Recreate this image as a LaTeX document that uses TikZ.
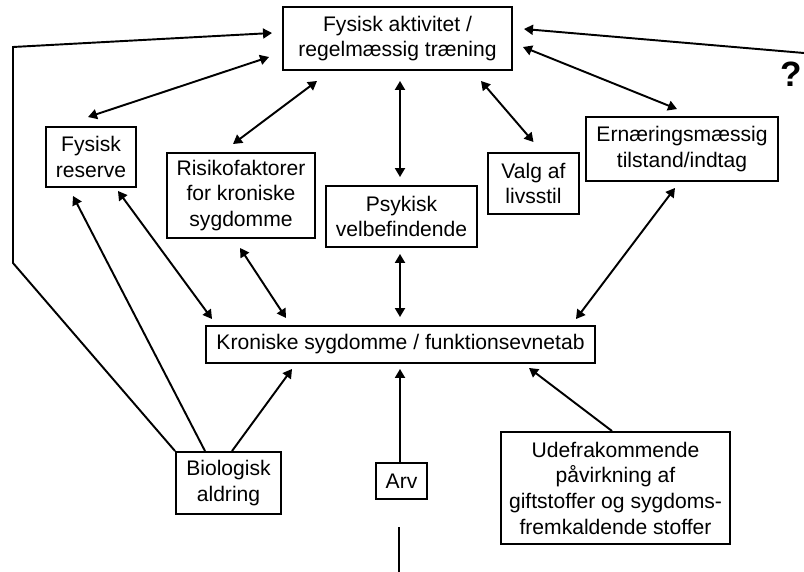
\documentclass[tikz,border=0pt]{standalone}
\usepackage{fontspec}
\setmainfont{Liberation Sans}
\usetikzlibrary{arrows.meta,calc}

\tikzset{
  box/.style={rectangle,draw=black,line width=1.1pt,align=center,inner sep=0pt,font=\fontsize{12}{14.6}\selectfont},
  both/.style={{Triangle[length=0.18cm,width=0.2cm]}-{Triangle[length=0.18cm,width=0.2cm]},line width=1.1pt},
  one/.style={-{Triangle[length=0.18cm,width=0.2cm]},line width=1.1pt}
}

\begin{document}
\begin{tikzpicture}

      \useasboundingbox (0,0) rectangle (16.08,-11.44);

      \node[box,minimum width=4.58cm,minimum height=1.26cm] (fa) at (7.95,-0.77){Fysisk aktivitet /\\regelmæssig træning};
      \node[box,minimum width=1.8cm,minimum height=1.2cm] (fr) at (1.82,-3.14){Fysisk\\reserve};
      \node[box,minimum width=2.96cm,minimum height=1.7cm] (rk) at (4.82,-3.91){Risikofaktorer\\for kroniske\\sygdomme};
      \node[box,minimum width=3.02cm,minimum height=1.22cm] (pv) at (8.03,-4.33){Psykisk\\velbefindende};
      \node[box,minimum width=1.82cm,minimum height=1.22cm] (vl) at (10.67,-3.67){Valg af\\livsstil};
      \node[box,minimum width=3.84cm,minimum height=1.28cm] (er) at (13.64,-2.98){Ernæringsmæssig\\tilstand/indtag};
      \node[box,minimum width=7.78cm,minimum height=0.74cm] (ks) at (8.01,-6.89){Kroniske sygdomme / funktionsevnetab};
      \node[box,minimum width=2.1cm,minimum height=1.24cm] (ba) at (4.57,-9.66){Biologisk\\aldring};
      \node[box,minimum width=1.02cm,minimum height=0.72cm] (arv) at (8.03,-9.62){Arv};
      \node[box,minimum width=4.58cm,minimum height=2.24cm] (ud) at (12.31,-9.76){Udefrakommende\\påvirkning af\\giftstoffer og sygdoms-\\fremkaldende stoffer};
      \node[font=\fontsize{20}{24}\selectfont\bfseries] (q) at (15.83,-1.48){?};

      \coordinate (bl) at (0.26,-5.26);
      \coordinate (tl) at (0.26,-0.94);
      \coordinate (qe) at (16.08,-1.06);
      \coordinate (a1) at (7.98,-10.54);
      \coordinate (a2) at (7.98,-11.44);

      % top row
      \draw[both] ($(fa.west)+(-0.26,-0.37)$) -- ($(fr.north)+(-0.06,0.18)$);
      \draw[both] ($(fa.south west)+(0.7,-0.2)$) -- ($(rk.north)+(-0.16,0.16)$);
      \draw[both] ($(pv.north |- fa.south)+(-0.03,-0.2)$) -- ($(pv.north)+(-0.03,0.16)$);
      \draw[both] ($(fa.south east)+(-0.64,-0.2)$) -- ($(vl.north)+(0,0.2)$);
      \draw[both] ($(fa.east)+(0.2,-0.17)$) -- ($(er.north)+(-0.1,0.14)$);
      \draw[one] (qe) -- ($(fa.east)+(0.22,0.19)$);
      \draw[one] (ba.north west) -- (bl) -- (tl) -- ($(fa.west)+(-0.2,0.11)$);

      % into the middle box
      \draw[both] ($(pv.south)+(-0.03,-0.12)$) -- ($(pv.south |- ks.north)+(-0.03,0.16)$);
      \draw[both] ($(rk.south)+(-0.02,-0.18)$) -- ($(ks.north west)+(1.62,0.14)$);
      \draw[both] ($(fr.south east)+(-0.38,-0.06)$) -- ($(ks.north west)+(0.14,0.12)$);
      \draw[both] ($(er.south)+(-0.14,-0.12)$) -- ($(ks.north east)+(-0.4,0.12)$);
      \draw[one] ($(ba.north)+(-0.47,0)$) -- ($(fr.south)+(-0.36,-0.16)$);
      \draw[one] ($(ba.north)+(0.07,0)$) -- ($(ks.south west)+(1.74,-0.1)$);
      \draw[one] ($(arv.north)+(-0.03,0)$) -- ($(arv.north |- ks.south)+(-0.03,-0.1)$);
      \draw[one] ($(ud.north)+(-0.07,0)$) -- ($(ks.south east)+(-1.34,-0.08)$);

      \draw[line width=1.1pt] (a1) -- (a2);

\end{tikzpicture}
\end{document}
